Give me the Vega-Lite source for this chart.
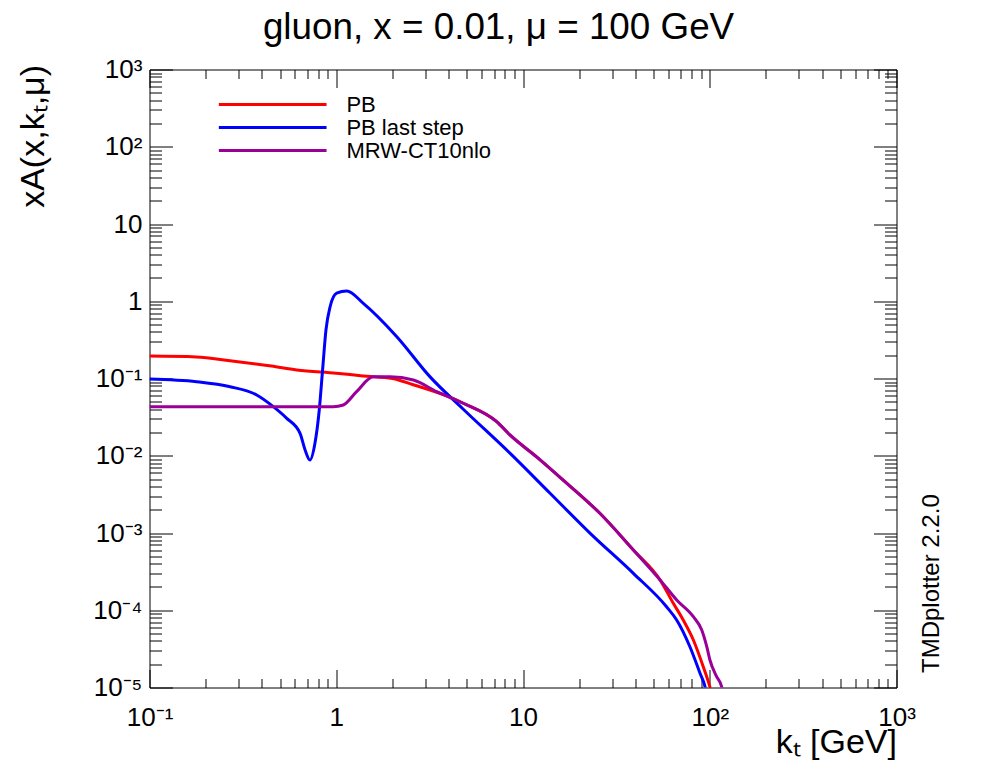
{
  "$schema": "https://vega.github.io/schema/vega-lite/v6.json",
  "autosize": {"type": "none"},
  "width": 747,
  "height": 618,
  "padding": {"left": 149.5, "top": 69.5, "right": 99.5, "bottom": 84.5},
  "background": "white",
  "config": {
    "font": "Liberation Sans",
    "view": {"stroke": null},
    "axis": {
      "grid": false,
      "domainColor": "black",
      "domainWidth": 1,
      "tickColor": "black",
      "tickWidth": 1,
      "labelColor": "black",
      "titleColor": "black",
      "labelFont": "Liberation Sans",
      "titleFont": "Liberation Sans",
      "titleFontWeight": "normal",
      "labelOverlap": false,
      "labelBound": false,
      "labelFlush": false
    }
  },
  "title": {
    "text": "gluon, x = 0.01, μ = 100 GeV",
    "font": "Liberation Sans",
    "fontSize": 36.8,
    "fontWeight": "normal",
    "color": "black",
    "anchor": "middle",
    "baseline": "alphabetic",
    "offset": 27,
    "dx": -24.5,
    "dy": 46
  },
  "data": {
    "values": [
      {"kt": 0.1, "val": 0.195, "series": "PB"},
      {"kt": 0.178, "val": 0.19, "series": "PB"},
      {"kt": 0.27, "val": 0.17, "series": "PB"},
      {"kt": 0.45, "val": 0.145, "series": "PB"},
      {"kt": 0.614, "val": 0.129, "series": "PB"},
      {"kt": 1.0, "val": 0.117, "series": "PB"},
      {"kt": 1.39, "val": 0.108, "series": "PB"},
      {"kt": 2.0, "val": 0.1, "series": "PB"},
      {"kt": 2.58, "val": 0.083, "series": "PB"},
      {"kt": 3.9, "val": 0.0594, "series": "PB"},
      {"kt": 4.79, "val": 0.0478, "series": "PB"},
      {"kt": 7.23, "val": 0.0276, "series": "PB"},
      {"kt": 8.51, "val": 0.0186, "series": "PB"},
      {"kt": 12, "val": 0.0094, "series": "PB"},
      {"kt": 16.4, "val": 0.00485, "series": "PB"},
      {"kt": 25.8, "val": 0.0018, "series": "PB"},
      {"kt": 39, "val": 0.000603, "series": "PB"},
      {"kt": 54.2, "val": 0.000247, "series": "PB"},
      {"kt": 63.8, "val": 0.000123, "series": "PB"},
      {"kt": 72.1, "val": 0.0000748, "series": "PB"},
      {"kt": 81.7, "val": 0.0000412, "series": "PB"},
      {"kt": 92.3, "val": 0.0000186, "series": "PB"},
      {"kt": 100.2, "val": 0.0000102, "series": "PB"},
      {"kt": 103, "val": 0.000008, "series": "PB"},
      {"kt": 0.1, "val": 0.0986, "series": "PB last step"},
      {"kt": 0.179, "val": 0.091, "series": "PB last step"},
      {"kt": 0.27, "val": 0.0783, "series": "PB last step"},
      {"kt": 0.375, "val": 0.0611, "series": "PB last step"},
      {"kt": 0.46, "val": 0.0432, "series": "PB last step"},
      {"kt": 0.543, "val": 0.0305, "series": "PB last step"},
      {"kt": 0.64, "val": 0.0195, "series": "PB last step"},
      {"kt": 0.681, "val": 0.0119, "series": "PB last step"},
      {"kt": 0.723, "val": 0.0088, "series": "PB last step"},
      {"kt": 0.769, "val": 0.0145, "series": "PB last step"},
      {"kt": 0.811, "val": 0.0391, "series": "PB last step"},
      {"kt": 0.845, "val": 0.129, "series": "PB last step"},
      {"kt": 0.881, "val": 0.425, "series": "PB last step"},
      {"kt": 0.927, "val": 0.849, "series": "PB last step"},
      {"kt": 1.005, "val": 1.27, "series": "PB last step"},
      {"kt": 1.138, "val": 1.36, "series": "PB last step"},
      {"kt": 1.396, "val": 0.94, "series": "PB last step"},
      {"kt": 2.11, "val": 0.348, "series": "PB last step"},
      {"kt": 3.18, "val": 0.105, "series": "PB last step"},
      {"kt": 4.79, "val": 0.04, "series": "PB last step"},
      {"kt": 8.51, "val": 0.0108, "series": "PB last step"},
      {"kt": 13.96, "val": 0.00327, "series": "PB last step"},
      {"kt": 22.9, "val": 0.00099, "series": "PB last step"},
      {"kt": 39, "val": 0.0003, "series": "PB last step"},
      {"kt": 58.7, "val": 0.000111, "series": "PB last step"},
      {"kt": 66.5, "val": 0.0000748, "series": "PB last step"},
      {"kt": 78.3, "val": 0.0000337, "series": "PB last step"},
      {"kt": 88.7, "val": 0.0000153, "series": "PB last step"},
      {"kt": 94.4, "val": 0.0000102, "series": "PB last step"},
      {"kt": 96.5, "val": 0.000008, "series": "PB last step"},
      {"kt": 0.1, "val": 0.0432, "series": "MRW-CT10nlo"},
      {"kt": 0.5, "val": 0.0432, "series": "MRW-CT10nlo"},
      {"kt": 0.964, "val": 0.0432, "series": "MRW-CT10nlo"},
      {"kt": 1.09, "val": 0.0454, "series": "MRW-CT10nlo"},
      {"kt": 1.285, "val": 0.0675, "series": "MRW-CT10nlo"},
      {"kt": 1.578, "val": 0.105, "series": "MRW-CT10nlo"},
      {"kt": 1.94, "val": 0.105, "series": "MRW-CT10nlo"},
      {"kt": 2.59, "val": 0.0957, "series": "MRW-CT10nlo"},
      {"kt": 3.45, "val": 0.0675, "series": "MRW-CT10nlo"},
      {"kt": 4.79, "val": 0.0478, "series": "MRW-CT10nlo"},
      {"kt": 7.23, "val": 0.0276, "series": "MRW-CT10nlo"},
      {"kt": 8.51, "val": 0.0186, "series": "MRW-CT10nlo"},
      {"kt": 12, "val": 0.0094, "series": "MRW-CT10nlo"},
      {"kt": 16.4, "val": 0.00485, "series": "MRW-CT10nlo"},
      {"kt": 25.8, "val": 0.0018, "series": "MRW-CT10nlo"},
      {"kt": 39, "val": 0.000603, "series": "MRW-CT10nlo"},
      {"kt": 54.2, "val": 0.000247, "series": "MRW-CT10nlo"},
      {"kt": 66.5, "val": 0.000136, "series": "MRW-CT10nlo"},
      {"kt": 81.7, "val": 0.0000826, "series": "MRW-CT10nlo"},
      {"kt": 90.6, "val": 0.0000555, "series": "MRW-CT10nlo"},
      {"kt": 96.4, "val": 0.0000337, "series": "MRW-CT10nlo"},
      {"kt": 100.2, "val": 0.0000227, "series": "MRW-CT10nlo"},
      {"kt": 108.9, "val": 0.0000138, "series": "MRW-CT10nlo"},
      {"kt": 115.9, "val": 0.0000102, "series": "MRW-CT10nlo"},
      {"kt": 118, "val": 0.000008, "series": "MRW-CT10nlo"}
    ]
  },
  "layer": [
    {
      "mark": {"type": "line", "strokeWidth": 3, "clip": true, "interpolate": "monotone"},
      "encoding": {
        "x": {
          "field": "kt",
          "type": "quantitative",
          "scale": {"type": "log", "domain": [0.1, 1000], "nice": false},
          "axis": {
            "orient": "bottom",
            "values": [0.1,0.2,0.3,0.4,0.5,0.6,0.7,0.8,0.9,1,2,3,4,5,6,7,8,9,10,20,30,40,50,60,70,80,90,100,200,300,400,500,600,700,800,900,1000],
            "tickSize": {"condition": {"test": "indexof([0.1,1,10,100,1000], datum.value) >= 0", "value": -18}, "value": -9},
            "labelExpr": "datum.value == 0.1 ? '10⁻¹' : datum.value == 1 ? '1' : datum.value == 10 ? '10' : datum.value == 100 ? '10²' : datum.value == 1000 ? '10³' : ''",
            "labelFontSize": 26,
            "labelBaseline": "alphabetic",
            "labelPadding": 56.4,
            "title": "kₜ [GeV]",
            "titleFontSize": 34,
            "titleAnchor": "end",
            "titleAlign": "right",
            "titleBaseline": "alphabetic",
            "titleX": 747,
            "titleY": 65.4
          }
        },
        "y": {
          "field": "val",
          "type": "quantitative",
          "scale": {"type": "log", "domain": [0.00001, 1000], "nice": false},
          "axis": {
            "orient": "left",
            "values": [0.00001,0.00002,0.00003,0.00004,0.00005,0.00006,0.00007,0.00008,0.00009,0.0001,0.0002,0.0003,0.0004,0.0005,0.0006,0.0007,0.0008,0.0009,0.001,0.002,0.003,0.004,0.005,0.006,0.007,0.008,0.009,0.01,0.02,0.03,0.04,0.05,0.06,0.07,0.08,0.09,0.1,0.2,0.3,0.4,0.5,0.6,0.7,0.8,0.9,1,2,3,4,5,6,7,8,9,10,20,30,40,50,60,70,80,90,100,200,300,400,500,600,700,800,900,1000],
            "tickSize": {"condition": {"test": "indexof([0.00001,0.0001,0.001,0.01,0.1,1,10,100,1000], datum.value) >= 0", "value": -23}, "value": -12},
            "labelExpr": "datum.value == 1000 ? '10³' : datum.value == 100 ? '10²' : datum.value == 10 ? '10' : datum.value == 1 ? '1' : datum.value == 0.1 ? '10⁻¹' : datum.value == 0.01 ? '10⁻²' : datum.value == 0.001 ? '10⁻³' : datum.value == 0.0001 ? '10⁻⁴' : datum.value == 0.00001 ? '10⁻⁵' : ''",
            "labelFontSize": 26,
            "labelAlign": "right",
            "labelBaseline": "middle",
            "labelPadding": 30.6,
            "title": "xA(x,kₜ,μ)",
            "titleFontSize": 34,
            "titleAngle": 270,
            "titleAnchor": "end",
            "titleAlign": "right",
            "titleBaseline": "alphabetic",
            "titleX": -106.5,
            "titleY": -5
          }
        },
        "color": {
          "field": "series",
          "type": "nominal",
          "scale": {"domain": ["PB", "PB last step", "MRW-CT10nlo"], "range": ["#ff0000", "#0000ff", "#990099"]},
          "legend": {
            "title": null,
            "orient": "none",
            "legendX": 112.2,
            "legendY": 24,
            "padding": 0,
            "symbolType": "M-10,0H10",
            "symbolSize": 116,
            "symbolStrokeWidth": 3,
            "labelOffset": 62.7,
            "labelFontSize": 22,
            "labelFont": "Liberation Sans",
            "labelColor": "black",
            "labelBaseline": "middle",
            "rowPadding": 1
          }
        }
      }
    },
    {
      "mark": {"type": "line", "opacity": 0, "strokeOpacity": 0},
      "encoding": {
        "x": {
          "field": "kt",
          "type": "quantitative",
          "axis": {
            "orient": "top",
            "values": [0.1,0.2,0.3,0.4,0.5,0.6,0.7,0.8,0.9,1,2,3,4,5,6,7,8,9,10,20,30,40,50,60,70,80,90,100,200,300,400,500,600,700,800,900,1000],
            "tickSize": {"condition": {"test": "indexof([0.1,1,10,100,1000], datum.value) >= 0", "value": -18}, "value": -9},
            "labels": false,
            "title": null
          }
        },
        "y": {
          "field": "val",
          "type": "quantitative",
          "axis": {
            "orient": "right",
            "values": [0.00001,0.00002,0.00003,0.00004,0.00005,0.00006,0.00007,0.00008,0.00009,0.0001,0.0002,0.0003,0.0004,0.0005,0.0006,0.0007,0.0008,0.0009,0.001,0.002,0.003,0.004,0.005,0.006,0.007,0.008,0.009,0.01,0.02,0.03,0.04,0.05,0.06,0.07,0.08,0.09,0.1,0.2,0.3,0.4,0.5,0.6,0.7,0.8,0.9,1,2,3,4,5,6,7,8,9,10,20,30,40,50,60,70,80,90,100,200,300,400,500,600,700,800,900,1000],
            "tickSize": {"condition": {"test": "indexof([0.00001,0.0001,0.001,0.01,0.1,1,10,100,1000], datum.value) >= 0", "value": -23}, "value": -12},
            "labels": false,
            "title": "TMDplotter 2.2.0",
            "titleFontSize": 24,
            "titleAngle": 270,
            "titleAlign": "left",
            "titleBaseline": "alphabetic",
            "titleX": 42,
            "titleY": 603
          }
        }
      }
    }
  ],
  "resolve": {"axis": {"x": "independent", "y": "independent"}}
}
